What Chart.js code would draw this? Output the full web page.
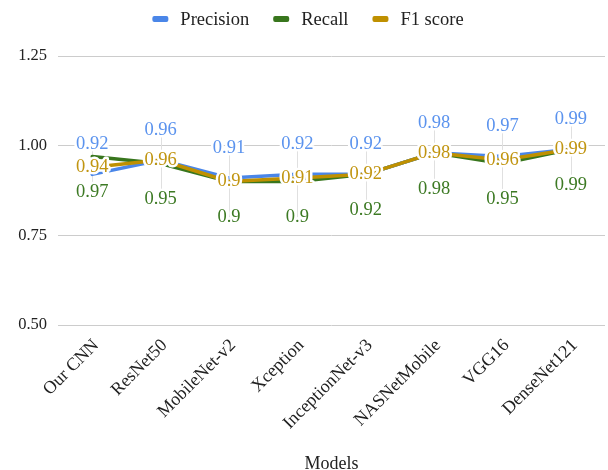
<!DOCTYPE html>
<html>
<head>
<meta charset="utf-8">
<script src="https://cdn.jsdelivr.net/npm/chart.js@4/dist/chart.umd.min.js"></script>
<style>
  html, body { margin: 0; padding: 0; background: #fff; }
  #wrap { width: 608px; height: 470px; position: relative; }
</style>
</head>
<body>
<div id="wrap"><canvas id="c" width="608" height="470"></canvas></div>
<script>
// Model names along the x axis
const models = ['Our CNN', 'ResNet50', 'MobileNet-v2', 'Xception', 'InceptionNet-v3', 'NASNetMobile', 'VGG16', 'DenseNet121'];

// Scores per model
const precision = [0.92, 0.96, 0.91, 0.92, 0.92, 0.98, 0.97, 0.99];
const recall    = [0.97, 0.95, 0.90, 0.90, 0.92, 0.98, 0.95, 0.99];
const f1Score   = [0.94, 0.96, 0.90, 0.91, 0.92, 0.98, 0.96, 0.99];

// Y axis range
const yTicks = [0.50, 0.75, 1.00, 1.25];

const FONT = "'Liberation Serif', 'Times New Roman', serif";
const BLUE = '#4a86e8', GREEN = '#38761d', GOLD = '#bf9000';

// Value labels: precision above the line, recall below, F1 on the point
const labelOffsets = [-30, 36, 0];
const labelColors = ['#5b93ee', '#3d7a24', '#c19511'];

const valueLabels = {
  id: 'valueLabels',
  beforeDatasetsDraw(chart) {
    const ctx = chart.ctx;
    const pMeta = chart.getDatasetMeta(0);
    const rMeta = chart.getDatasetMeta(1);
    ctx.save();
    ctx.strokeStyle = '#e0e0e0';
    ctx.lineWidth = 1;
    pMeta.data.forEach((pt, i) => {
      const x = Math.round(pt.x) + 0.5;
      ctx.beginPath();
      ctx.moveTo(x, pt.y + labelOffsets[0]);
      ctx.lineTo(x, rMeta.data[i].y + labelOffsets[1]);
      ctx.stroke();
    });
    ctx.restore();
  },
  afterDatasetsDraw(chart) {
    const ctx = chart.ctx;
    ctx.save();
    ctx.font = '18.5px ' + FONT;
    ctx.textAlign = 'center';
    ctx.textBaseline = 'middle';
    ctx.lineJoin = 'round';
    [0, 1, 2].forEach(d => {
      const meta = chart.getDatasetMeta(d);
      const vals = chart.data.datasets[d].data;
      meta.data.forEach((pt, i) => {
        const txt = String(vals[i]);
        const y = pt.y + labelOffsets[d];
        ctx.strokeStyle = '#ffffff';
        ctx.lineWidth = 5;
        ctx.strokeText(txt, pt.x, y);
        ctx.fillStyle = labelColors[d];
        ctx.fillText(txt, pt.x, y);
      });
    });
    ctx.restore();
  }
};

// Legend drawn centred above the plot
const topLegend = {
  id: 'topLegend',
  afterDraw(chart) {
    const ctx = chart.ctx;
    ctx.save();
    ctx.font = '18.5px ' + FONT;
    ctx.textBaseline = 'middle';
    const items = chart.data.datasets.map(ds => ({ text: ds.label, color: ds.borderColor }));
    const boxW = 16, boxH = 6, gapText = 12, gapItem = 24;
    const widths = items.map(it => boxW + gapText + ctx.measureText(it.text).width);
    const total = widths.reduce((a, b) => a + b, 0) + gapItem * (items.length - 1);
    let x = (chart.width - total) / 2 + 4;
    const y = 19;
    items.forEach((it, i) => {
      ctx.fillStyle = it.color;
      ctx.beginPath();
      ctx.roundRect(x, y - boxH / 2, boxW, boxH, 2);
      ctx.fill();
      ctx.fillStyle = '#222222';
      ctx.fillText(it.text, x + boxW + gapText, y + 1);
      x += widths[i] + gapItem;
    });
    ctx.restore();
  }
};

const mkSet = (label, data, color, order) => ({
  label, data, order,
  borderColor: color,
  backgroundColor: color,
  borderWidth: 3.5,
  pointRadius: 0,
  pointHoverRadius: 0,
  tension: 0,
  borderJoinStyle: 'round',
  borderCapStyle: 'round'
});

new Chart(document.getElementById('c'), {
  type: 'line',
  data: {
    labels: models,
    datasets: [
      mkSet('Precision', precision, BLUE, 1),
      mkSet('Recall', recall, GREEN, 2),
      mkSet('F1 score', f1Score, GOLD, 0)
    ]
  },
  options: {
    responsive: false,
    animation: false,
    devicePixelRatio: 1,
    layout: { padding: { top: 56, right: 3, left: 0, bottom: 0 } },
    plugins: {
      legend: { display: false },
      tooltip: { enabled: false }
    },
    scales: {
      x: {
        offset: true,
        grid: { display: false, drawTicks: false },
        border: { display: false },
        ticks: {
          color: '#222222',
          font: { family: FONT, size: 18 },
          maxRotation: 45,
          minRotation: 45,
          autoSkip: false,
          padding: 10,
          labelOffset: 4
        },
        title: {
          display: true,
          text: 'Models',
          color: '#222222',
          font: { family: FONT, size: 18, lineHeight: 1 },
          padding: { top: 0, bottom: -3 }
        },
        afterFit(scale) { scale.height = 145; }
      },
      y: {
        min: yTicks[0],
        max: yTicks[yTicks.length - 1],
        afterBuildTicks(scale) { scale.ticks = yTicks.map(v => ({ value: v })); },
        grid: { color: '#cccccc', lineWidth: 1, drawTicks: false },
        border: { display: false },
        ticks: {
          color: '#222222',
          font: { family: FONT, size: 16.5 },
          padding: 11,
          callback: v => Number(v).toFixed(2)
        },
        afterFit(scale) { scale.width = 58; }
      }
    }
  },
  plugins: [valueLabels, topLegend]
});
</script>
</body>
</html>
